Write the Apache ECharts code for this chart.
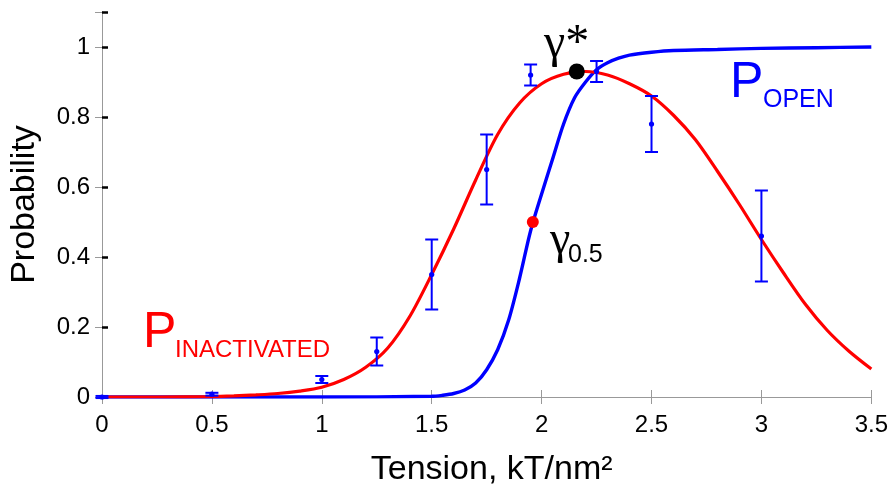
<!DOCTYPE html>
<html>
<head>
<meta charset="utf-8">
<script src="https://cdn.jsdelivr.net/npm/echarts@6/dist/echarts.min.js"></script>
<style>html,body{margin:0;padding:0;background:#fff}#c{width:891px;height:492px}</style>
</head>
<body>
<div id="c"></div>
<script>
// ---- data ----
const xTicks = [0, 0.5, 1, 1.5, 2, 2.5, 3, 3.5];
const yTicks = [0, 0.2, 0.4, 0.6, 0.8, 1];

const openX = [0, 0.5, 1.0, 1.5, 1.55, 1.6, 1.65, 1.7, 1.75, 1.8, 1.85, 1.9, 1.95, 2.0, 2.05, 2.1, 2.15, 2.2, 2.25, 2.3, 2.35, 2.4, 2.5, 2.6, 2.8, 3.0, 3.25, 3.5];
const openY = [0, 0, 0, 0.002, 0.005, 0.01, 0.02, 0.04, 0.078, 0.135, 0.22, 0.34, 0.475, 0.58, 0.68, 0.78, 0.855, 0.90, 0.935, 0.955, 0.968, 0.977, 0.985, 0.99, 0.993, 0.996, 0.998, 1.0];

const inactX = [0, 0.25, 0.5, 0.6, 0.7, 0.8, 0.9, 1.0, 1.1, 1.2, 1.3, 1.4, 1.5, 1.6, 1.7, 1.8, 1.9, 2.0, 2.1, 2.2, 2.3, 2.4, 2.5, 2.6, 2.7, 2.8, 2.9, 3.0, 3.1, 3.2, 3.3, 3.4, 3.5];
const inactY = [0, 0, 0.001, 0.003, 0.006, 0.01, 0.017, 0.028, 0.05, 0.085, 0.14, 0.23, 0.35, 0.48, 0.62, 0.75, 0.84, 0.895, 0.922, 0.93, 0.92, 0.895, 0.86, 0.805, 0.735, 0.645, 0.55, 0.45, 0.355, 0.265, 0.19, 0.13, 0.08];

const errX = [0, 0.5, 1.0, 1.25, 1.5, 1.75, 1.95, 2.25, 2.5, 3.0];
const errY = [0, 0.008, 0.05, 0.13, 0.35, 0.65, 0.92, 0.93, 0.78, 0.46];
const errD = [0.003, 0.004, 0.01, 0.04, 0.1, 0.1, 0.03, 0.03, 0.08, 0.13];

const gammaStar = [2.16, 0.93];
const gammaHalf = [1.96, 0.5];

// ---- chart ----
const FONT = 'Liberation Sans, Arial, sans-serif';
const SERIF = 'Liberation Serif, Times New Roman, serif';
const BLUE = '#0000ff', RED = '#ff0000', GRAY = '#999999';

const chart = echarts.init(document.getElementById('c'), null, {renderer: 'canvas'});

const zip = (a, b) => a.map((v, i) => [v, b[i]]);

const option = {
  animation: false,
  backgroundColor: '#fff',
  grid: {left: 102, right: 18, top: 12, bottom: 91.5, containLabel: false},
  xAxis: [{
    type: 'value', min: 0, max: 3.5, interval: 0.5,
    name: 'Tension, kT/nm²', nameLocation: 'middle', nameGap: 56,
    nameTextStyle: {fontFamily: FONT, fontSize: 34, color: '#000', padding: [0, 0, 0, 10]},
    axisLine: {show: true, lineStyle: {color: GRAY, width: 1}},
    axisTick: {show: true, inside: true, length: 7, lineStyle: {color: GRAY}},
    axisLabel: {fontFamily: FONT, fontSize: 24, color: '#000', margin: 16,
      formatter: v => xTicks.includes(+v.toFixed(2)) ? String(+v.toFixed(2)) : ''},
    splitLine: {show: false}
  }, {
    type: 'value', min: 0, max: 3.5, interval: 0.5, position: 'top',
    axisLine: {show: true, lineStyle: {color: GRAY, width: 1}},
    axisTick: {show: true, inside: true, length: 7, lineStyle: {color: GRAY}},
    axisLabel: {show: false}, splitLine: {show: false}
  }],
  yAxis: [{
    type: 'value', min: 0, max: 1.1, interval: 0.2,
    name: 'Probability', nameLocation: 'middle', nameGap: 60, nameRotate: 90,
    nameTextStyle: {fontFamily: FONT, fontSize: 34, color: '#000'},
    axisLine: {show: true, lineStyle: {color: GRAY, width: 1}},
    axisTick: {show: true, inside: true, length: 6, lineStyle: {color: '#000', width: 2.5}},
    axisLabel: {fontFamily: FONT, fontSize: 24, color: '#000', margin: 12, padding: [7, 0, 0, 0],
      formatter: v => yTicks.includes(+v.toFixed(2)) ? String(+v.toFixed(2)) : ''},
    splitLine: {show: false}
  }, {
    type: 'value', min: 0, max: 1.1, interval: 0.2, position: 'right',
    axisLine: {show: true, lineStyle: {color: GRAY, width: 1}},
    axisTick: {show: true, inside: true, length: 7, lineStyle: {color: GRAY}},
    axisLabel: {show: false}, splitLine: {show: false}
  }],
  series: [
    {
      name: 'P_open', type: 'line', data: zip(openX, openY), showSymbol: false,
      smooth: 0.3,
      lineStyle: {color: BLUE, width: 3.4}, z: 2
    },
    {
      name: 'P_inactivated', type: 'line', data: zip(inactX, inactY), showSymbol: false,
      smooth: 0.3,
      lineStyle: {color: RED, width: 3.2}, z: 3
    },
    {
      name: 'data', type: 'custom', z: 4,
      data: errX.map((x, i) => [x, errY[i], errD[i]]),
      renderItem: function (params, api) {
        const x = api.value(0), y = api.value(1), d = api.value(2);
        const t = api.coord([x, y + d]);
        const b = api.coord([x, y - d]);
        const c = api.coord([x, y]);
        const w = 6.5;
        const st = {stroke: BLUE, lineWidth: 2};
        return {
          type: 'group',
          children: [
            {type: 'line', shape: {x1: t[0], y1: t[1], x2: b[0], y2: b[1]}, style: st},
            {type: 'line', shape: {x1: t[0] - w, y1: t[1], x2: t[0] + w, y2: t[1]}, style: st},
            {type: 'line', shape: {x1: b[0] - w, y1: b[1], x2: b[0] + w, y2: b[1]}, style: st},
            {type: 'circle', shape: {cx: c[0], cy: c[1], r: 2.6}, style: {fill: BLUE}}
          ]
        };
      }
    },
    {
      name: 'gamma05', type: 'scatter', data: [gammaHalf], symbol: 'circle', symbolSize: 12,
      itemStyle: {color: RED, opacity: 1}, z: 5
    },
    {
      name: 'gammaStar', type: 'scatter', data: [gammaStar], symbol: 'circle', symbolSize: 16,
      itemStyle: {color: '#000', opacity: 1}, z: 6
    }
  ],
  graphic: [
    {type: 'text', left: 143, top: 308, style: {text: 'P', font: '50px ' + FONT, fill: RED}},
    {type: 'text', left: 175, top: 338, style: {text: 'INACTIVATED', font: '24px ' + FONT, fill: RED}},
    {type: 'text', left: 730, top: 58, style: {text: 'P', font: '50px ' + FONT, fill: BLUE}},
    {type: 'text', left: 763, top: 88, style: {text: 'OPEN', font: '25px ' + FONT, fill: BLUE}},
    {type: 'text', left: 544, top: 20, style: {text: 'γ*', font: '48px ' + SERIF, fill: '#000'}},
    {type: 'text', left: 550, top: 218, style: {text: 'γ', font: '46px ' + SERIF, fill: '#000'}},
    {type: 'text', left: 568, top: 243, style: {text: '0.5', font: '25px ' + FONT, fill: '#000'}}
  ]
};
chart.setOption(option);
</script>
</body>
</html>
